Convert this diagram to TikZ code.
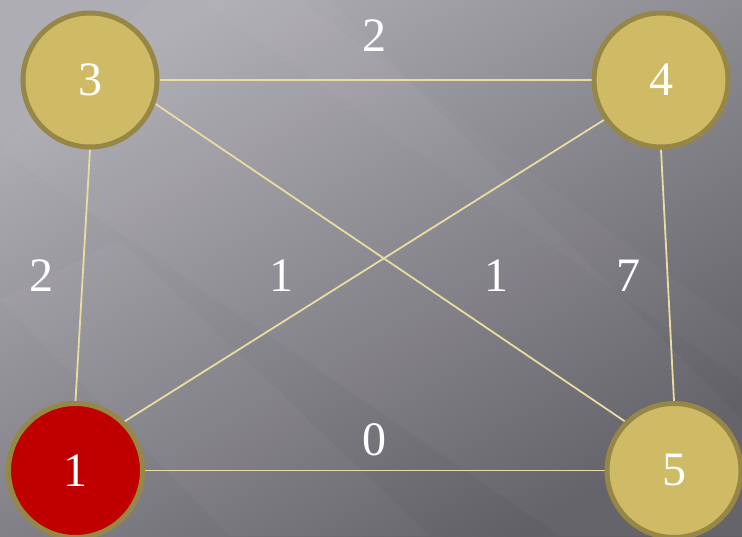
\documentclass[tikz,border=0pt]{standalone}
\usepackage{fontspec}
\setmainfont{Liberation Serif}
\usetikzlibrary{backgrounds}
\definecolor{bgTL}{RGB}{175,173,180}
\definecolor{bgBR}{RGB}{98,96,103}
\definecolor{gold}{RGB}{207,187,102}
\definecolor{goldedge}{RGB}{150,135,70}
\definecolor{redfill}{RGB}{192,0,0}
\definecolor{edgecol}{RGB}{232,220,163}
\tikzset{
  vertex/.style={circle, draw=goldedge, line width=5pt, fill=gold, minimum size=134pt, inner sep=0pt, text=white, font=\fontsize{48}{48}\selectfont},
  redvertex/.style={vertex, fill=redfill},
  conn/.style={draw=edgecol, line width=1.8pt},
  wlabel/.style={text=white, font=\fontsize{48}{48}\selectfont, inner sep=0pt}
}
\begin{document}
\begin{tikzpicture}[x=1pt, y=-1pt]
\useasboundingbox (0,0) rectangle (742,536);
\node[vertex] (n3) at (90,80) {3};
\node[vertex] (n4) at (661,80) {4};
\node[redvertex] (n1) at (75.5,470.5) {1};
\node[vertex] (n5) at (674,470.5) {5};
\node[wlabel] (l34) at (374,36) {2};
\node[wlabel] (l31) at (41,276) {2};
\node[wlabel] (l41) at (281,276) {1};
\node[wlabel] (l35) at (496,276) {1};
\node[wlabel] (l45) at (628,276) {7};
\node[wlabel] (l15) at (374,440) {0};
\begin{pgfonlayer}{background}
  \shade[left color=bgTL, right color=bgBR, shading angle=30] (0,0) rectangle (742,536);
  \fill[white, opacity=0.03] (0,150) -- (150,0) -- (330,0) -- (742,420) -- (742,536) -- (560,536) -- cycle;
  \fill[white, opacity=0.03] (0,300) -- (120,240) -- (430,536) -- (230,536) -- cycle;
  \fill[white, opacity=0.025] (200,0) -- (300,0) -- (742,330) -- (742,380) -- cycle;
  \draw[conn] (n3.east) -- (n4.west);
  \draw[conn] (n1.east) -- (n5.west);
  \draw[conn] (n3.south) -- (n1.north);
  \draw[conn] (n4.south) -- (n5.north);
  \draw[conn] (n3.-20.8) -- (n5.135);
  \draw[conn] (n4.215.3) -- (n1.45);
\end{pgfonlayer}
\end{tikzpicture}
\end{document}
